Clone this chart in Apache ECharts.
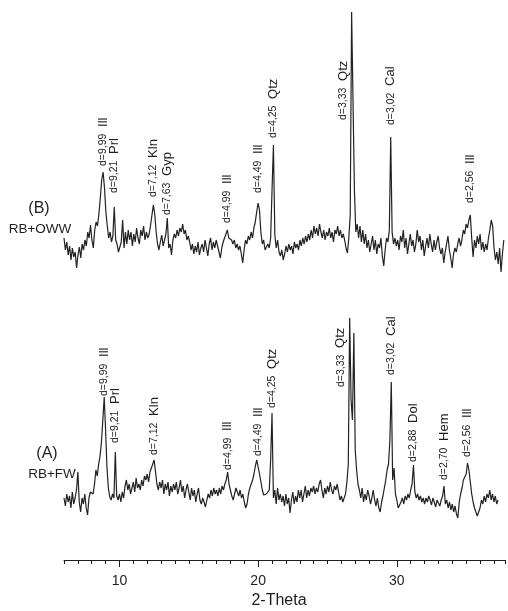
<!DOCTYPE html>
<html>
<head>
<meta charset="utf-8">
<script src="https://cdn.jsdelivr.net/npm/echarts@6/dist/echarts.min.js"></script>
<style>
  html, body { margin: 0; padding: 0; background: #fff; }
  #chart { width: 508px; height: 611px; }
</style>
</head>
<body>
<div id="chart"></div>
<script>
// XRD patterns, 2-Theta grid starting at 6.0 deg with 0.1 deg steps (relative intensity)
const thetaStart = 6.0;
const thetaStep = 0.1;

// (B) RB+OWW, 6.0 .. 37.5
const intensityB = [
  72,60,68,55,64,50,62,53,58,42,
  55,63,52,66,60,70,64,78,72,85,
  70,62,80,88,84,96,112,130,138,122,
  98,84,72,78,68,74,103,70,66,58,
  57,68,90,62,78,66,80,70,78,64,
  76,68,82,72,66,80,74,84,70,78,
  72,76,85,95,105,96,78,66,60,68,
  75,64,70,76,92,62,66,55,70,76,
  72,80,74,82,78,86,76,80,70,74,
  68,60,66,56,64,58,68,55,62,66,
  58,70,62,54,66,72,60,68,62,70,
  64,58,52,62,68,72,74,80,72,74,
  70,66,70,62,66,60,64,56,47,60,
  70,66,74,70,78,72,82,88,98,107,
  100,78,66,70,60,58,66,62,72,120,
  165,75,62,70,58,54,60,50,56,64,
  58,66,60,64,56,68,62,66,60,70,
  64,72,66,74,68,76,70,80,72,84,
  76,82,74,86,78,72,80,70,78,74,
  82,72,78,68,80,76,84,74,80,72,
  76,70,62,57,72,95,298,300,120,78,
  86,72,84,68,80,66,76,62,70,58,
  66,74,60,70,56,66,62,72,54,44,
  60,72,68,80,173,78,66,72,64,70,
  60,74,68,80,62,72,56,66,76,64,
  70,58,66,80,68,74,60,70,54,64,
  72,62,76,66,58,70,60,68,74,62,
  56,62,47,58,66,74,60,52,42,56,
  62,58,66,72,64,70,80,76,86,82,
  90,95,72,53,70,62,74,66,76,60,
  68,58,66,60,72,80,90,84,62,50,
  58,46,62,38,56,70
];

// (A) RB+FW, 6.0 .. 37.3
const intensityA = [
  62,54,66,58,64,52,68,56,62,70,
  88,58,48,62,56,66,52,45,62,68,
  70,66,76,90,84,96,104,118,140,163,
  130,92,72,63,60,66,62,108,64,60,
  66,58,68,62,74,80,70,76,66,72,
  78,68,82,72,76,70,80,74,84,80,
  86,78,88,92,94,100,88,76,70,78,
  72,80,66,76,70,78,64,74,68,76,
  70,78,66,72,80,68,74,62,70,76,
  68,60,72,64,70,58,66,72,60,56,
  62,58,53,60,66,62,70,64,72,66,
  70,64,72,66,74,70,76,80,88,76,
  70,64,60,66,72,68,64,70,62,66,
  58,52,56,66,72,76,80,86,94,100,
  98,86,78,70,65,63,66,64,70,100,
  147,62,70,56,72,60,66,58,64,54,
  66,56,62,47,60,68,56,64,58,70,
  62,70,58,66,74,62,70,64,72,68,
  74,66,72,68,76,80,70,62,72,66,
  74,68,78,70,66,74,70,76,68,60,
  64,58,62,66,78,96,242,160,140,227,
  110,90,76,70,62,72,58,66,60,70,
  64,56,62,70,60,54,62,52,48,58,
  64,72,80,90,96,120,178,80,92,66,
  60,52,50,58,62,56,64,60,66,62,
  70,76,95,68,62,66,60,64,58,62,
  56,62,58,64,60,55,62,58,53,60,
  58,54,60,64,74,56,60,52,58,50,
  56,48,54,46,42,58,66,72,80,78,
  86,97,90,78,66,58,52,48,44,43,
  52,60,56,64,58,66,62,70,60,66,
  58,64,56,60
];

// Identified reflections: [2-Theta, d-spacing text, phase]
const peaksB = [
  [8.8, 'd=9,99', 'Ill'],
  [9.6, 'd=9,21', 'Prl'],
  [12.4, 'd=7,12', 'Kln'],
  [13.4, 'd=7,63', 'Gyp'],
  [17.7, 'd=4,99', 'Ill'],
  [19.9, 'd=4,49', 'Ill'],
  [21.0, 'd=4,25', 'Qtz'],
  [26.7, 'd=3,33', 'Qtz'],
  [29.4, 'd=3,02', 'Cal'],
  [35.1, 'd=2,56', 'Ill']
];
const peaksA = [
  [8.9, 'd=9,99', 'Ill'],
  [9.7, 'd=9,21', 'Prl'],
  [12.5, 'd=7,12', 'Kln'],
  [17.8, 'd=4,99', 'Ill'],
  [20.0, 'd=4,49', 'Ill'],
  [21.0, 'd=4,25', 'Qtz'],
  [26.6, 'd=3,33', 'Qtz'],
  [29.6, 'd=3,02', 'Cal'],
  [31.2, 'd=2,88', 'Dol'],
  [33.4, 'd=2,70', 'Hem'],
  [35.1, 'd=2,56', 'Ill']
];

const xTickLabels = [10, 20, 30];
const panelTags = ['(B)', '(A)'];
const sampleNames = ['RB+OWW', 'RB+FW'];
const axisTitle = '2-Theta';

// ---- layout / style (kept apart from the data) ----
const font = '"Liberation Sans", Arial, sans-serif';
const ink = '#1e1e1e';
const xMin = 6, xMax = 37.8;
// per-label lift above the peak top (px) and sideways shift
const labelLayoutB = [{gap:6},{gap:14},{gap:8},{gap:3},{gap:7},{gap:10},{gap:7},{gap:-110,dx:-10},{gap:12},{gap:12}];
const labelLayoutA = [{gap:1},{gap:9},{gap:5},{gap:2},{gap:4},{gap:5},{gap:-69,dx:-9},{gap:7},{gap:3},{gap:6},{gap:6}];

function toPairs(vals) {
  return vals.map((v, i) => [+(thetaStart + i * thetaStep).toFixed(1), v]);
}
const dataB = toPairs(intensityB);
const dataA = toPairs(intensityA);

const chart = echarts.init(document.getElementById('chart'), null, { renderer: 'canvas' });

const lineSeries = (data, gi) => ({
  type: 'line', data, xAxisIndex: gi, yAxisIndex: gi,
  showSymbol: false, symbol: 'none', smooth: false,
  lineStyle: { color: '#222', width: 1.2 },
  emphasis: { disabled: true }, silent: true
});

chart.setOption({
  animation: false,
  backgroundColor: '#fff',
  grid: [
    { left: 64, right: 0, top: 0, height: 310 },
    { left: 64, right: 0, top: 300, height: 260 }
  ],
  xAxis: [
    { gridIndex: 0, type: 'value', min: xMin, max: xMax, show: false },
    {
      gridIndex: 1, type: 'value', min: xMin, max: xMax, interval: 1,
      axisLine: { lineStyle: { color: ink, width: 1 } },
      axisTick: { length: 4, lineStyle: { color: ink, width: 1 } },
      splitLine: { show: false },
      axisLabel: {
        color: ink, fontSize: 14, fontFamily: font, margin: 14,
        formatter: v => (xTickLabels.indexOf(Math.round(v)) >= 0 && Math.abs(v - Math.round(v)) < 1e-6) ? String(Math.round(v)) : ''
      },
      name: axisTitle, nameLocation: 'middle', nameGap: 33,
      nameTextStyle: { color: ink, fontSize: 16, fontFamily: font, padding: [0, 11, 0, 0] }
    },
    {
      gridIndex: 1, type: 'value', min: xMin, max: xMax, position: 'bottom',
      axisLine: { show: false },
      axisTick: { show: true, customValues: xTickLabels, length: 7, lineStyle: { color: ink, width: 1 } },
      axisLabel: { show: false }, splitLine: { show: false }
    }
  ],
  yAxis: [
    { gridIndex: 0, type: 'value', min: 0, max: 310, show: false },
    { gridIndex: 1, type: 'value', min: 0, max: 260, show: false }
  ],
  series: [lineSeries(dataB, 0), lineSeries(dataA, 1)]
});

// peak labels, placed through the axes' own coordinate conversion
function peakTop(data, t) {
  let m = -Infinity;
  data.forEach(([x, v]) => { if (Math.abs(x - t) <= 0.151 && v > m) m = v; });
  return m;
}
const graphics = [];
[[peaksB, dataB, 0, labelLayoutB], [peaksA, dataA, 1, labelLayoutA]].forEach(([peaks, data, gi, lay]) => {
  peaks.forEach(([t, d, phase], k) => {
    const s = lay[k] || {};
    const p = chart.convertToPixel({ gridIndex: gi }, [t, peakTop(data, t)]);
    graphics.push({
      type: 'text', silent: true,
      x: p[0] + (s.dx || 0), y: p[1] - (s.gap != null ? s.gap : 6),
      rotation: Math.PI / 2,
      style: {
        text: '{d|' + d + '}  {m|' + phase + '}',
        rich: {
          d: { fontSize: 10.5, fontFamily: font, fill: ink },
          m: { fontSize: 13, fontFamily: font, fill: ink }
        },
        align: 'left', verticalAlign: 'middle'
      }
    });
  });
});

// panel tags and sample names at the left of each pattern
const tagPos = [[39, 209], [47, 454]];
const namePos = [[40, 229], [52, 474]];
panelTags.forEach((txt, i) => graphics.push({
  type: 'text', silent: true, x: tagPos[i][0], y: tagPos[i][1],
  style: { text: txt, fontSize: 16, fontFamily: font, fill: ink, align: 'center', verticalAlign: 'middle' }
}));
sampleNames.forEach((txt, i) => graphics.push({
  type: 'text', silent: true, x: namePos[i][0], y: namePos[i][1],
  style: { text: txt, fontSize: 13.5, fontFamily: font, fill: ink, align: 'center', verticalAlign: 'middle' }
}));

chart.setOption({ graphic: graphics });
</script>
</body>
</html>
